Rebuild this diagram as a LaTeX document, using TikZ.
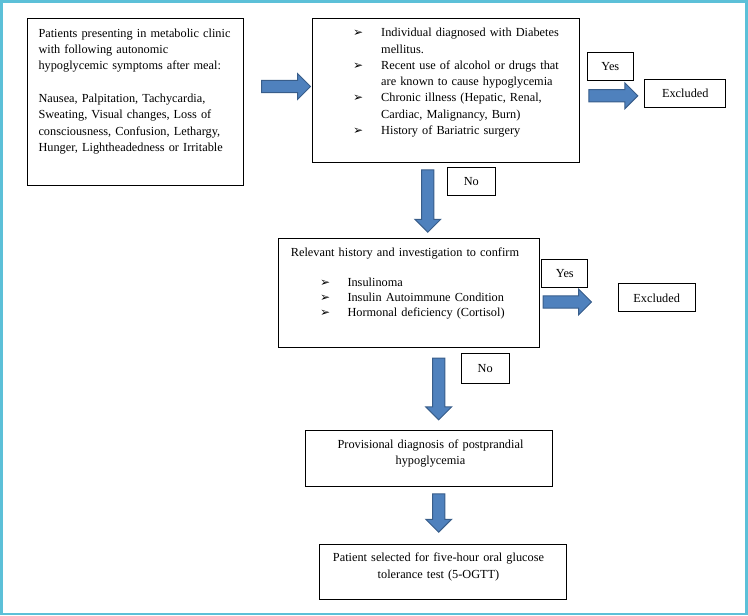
\documentclass[tikz,border=0pt]{standalone}
\usepackage{fontspec}
\setmainfont{Liberation Serif}
\newfontfamily\dejavu{DejaVu Sans}
\usetikzlibrary{shapes.arrows}
\definecolor{framecyan}{RGB}{92,192,216}
\definecolor{arrowfill}{RGB}{79,129,189}
\definecolor{arrowedge}{RGB}{56,93,138}
\newcommand{\bul}[1]{\makebox[#1][l]{\dejavu\fontsize{12}{12}\selectfont ➢}}

\begin{document}
\begin{tikzpicture}[x=1pt, y=-1pt, font=\fontsize{12.3}{16.3}\selectfont,
    box/.style={draw, line width=1pt, inner sep=0pt, anchor=north west},
    tag/.style={draw, line width=1pt, inner sep=0pt, minimum height=28pt},
    txt/.style={inner sep=0pt, anchor=base west, text width=#1, align=left},
    mid/.style={inner sep=0pt, anchor=base, text width=250pt, align=center},
    blockarrow/.style={single arrow, draw=arrowedge, fill=arrowfill, line width=1pt,
      inner xsep=0pt, inner ysep=5.6pt, single arrow head extend=6.8pt, anchor=tail}]
    \useasboundingbox (0,0) rectangle (748,616);
    \draw[framecyan, line width=2.8pt] (1.4,1.3) rectangle (746.6,614);

    \node[box, minimum width=216.6pt, minimum height=167pt] (patients) at (26.7,18.3) {};
    \node[txt=215pt] (patientstext) at ([shift={(11.6,19)}]patients.north west)
      {Patients presenting in metabolic clinic\\ with following autonomic\\
       hypoglycemic symptoms after meal:\\[16.3pt]
       Nausea, Palpitation, Tachycardia,\\ Sweating, Visual changes, Loss of\\
       consciousness, Confusion, Lethargy,\\ Hunger, Lightheadedness or Irritable};

    \node[box, minimum width=267pt, minimum height=143.4pt] (criteria) at (312.3,18.3) {};
    \node[txt=220pt] (criteriatext) at ([shift={(40.7,18.4)}]criteria.north west)
      {\bul{28pt}Individual diagnosed with Diabetes\\ \hspace*{28pt}mellitus.\\
       \bul{28pt}Recent use of alcohol or drugs that\\ \hspace*{28pt}are known to cause hypoglycemia\\
       \bul{28pt}Chronic illness (Hepatic, Renal,\\ \hspace*{28pt}Cardiac, Malignancy, Burn)\\
       \bul{28pt}History of Bariatric surgery};

    \node[box, minimum width=261pt, minimum height=109pt] (confirm) at (278.3,238.3) {};
    \node[txt=245pt, font=\fontsize{12.3}{14.7}\selectfont] (confirmtext)
      at ([shift={(12.4,18.4)}]confirm.north west)
      {Relevant history and investigation to confirm\\[15.3pt]
       \hspace*{29.3pt}\bul{27.3pt}Insulinoma\\
       \hspace*{29.3pt}\bul{27.3pt}Insulin Autoimmune Condition\\
       \hspace*{29.3pt}\bul{27.3pt}Hormonal deficiency (Cortisol)};

    \node[box, minimum width=247pt, minimum height=55.7pt] (provisional) at (305.3,430) {};
    \node[mid] (provisionaltext) at ([shift={(125.2,18.3)}]provisional.north west)
      {Provisional diagnosis of postprandial\\ hypoglycemia};

    \node[box, minimum width=246.4pt, minimum height=55.3pt] (ogtt) at (319.3,544) {};
    \node[mid] (ogtttext) at ([shift={(119.2,17.7)}]ogtt.north west)
      {Patient selected for five-hour oral glucose\\ tolerance test (5-OGTT)};

    \node[tag, minimum width=46pt] (yes1) at (610.3,66.5) {Yes};
    \node[tag, minimum width=80.7pt] (excluded1) at (685.3,93.7) {Excluded};
    \node[tag, minimum width=48pt] (no1) at (471.3,181.3) {No};
    \node[tag, minimum width=45.7pt] (yes2) at (564.8,273.3) {Yes};
    \node[tag, minimum width=76.7pt] (excluded2) at (656.7,297.8) {Excluded};
    \node[tag, minimum width=48.3pt, minimum height=30pt] (no2) at (485.2,368.3) {No};

    \node[blockarrow, minimum height=49pt] (tocriteria) at (261,86.5) {};
    \node[blockarrow, minimum height=49pt] (toexcluded1) at (588.3,95.8) {};
    \node[blockarrow, minimum height=62.4pt, rotate=-90] (toconfirm) at (427.8,169.3) {};
    \node[blockarrow, minimum height=48.3pt] (toexcluded2) at (542.7,302) {};
    \node[blockarrow, minimum height=61.6pt, rotate=-90] (toprovisional) at (438.7,357.7) {};
    \node[blockarrow, minimum height=38.4pt, rotate=-90] (toogtt) at (438.7,493.3) {};
  \end{tikzpicture}
\end{document}
